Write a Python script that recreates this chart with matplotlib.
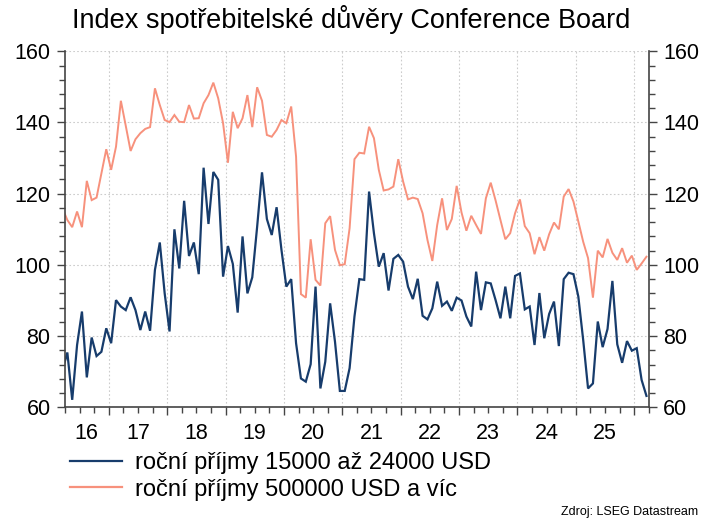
import numpy as np
import pandas as pd
import matplotlib
matplotlib.use("Agg")
import matplotlib.pyplot as plt
from matplotlib.ticker import MultipleLocator
from matplotlib.lines import Line2D

plt.rcParams['font.family'] = ['Liberation Sans', 'DejaVu Sans']

title = "Index spotřebitelské důvěry Conference Board"
label_low = "roční příjmy 15000 až 24000 USD"
label_high = "roční příjmy 500000 USD a víc"
source = "Zdroj: LSEG Datastream"

months = pd.date_range("2016-03-01", periods=121, freq="MS")

low_income = [70.4,
    75.4, 62.1, 77.5, 86.9, 68.4, 79.6, 74.4, 75.6, 82.2, 78.0,
    90.1, 88.3, 87.3, 90.9, 87.3, 81.7, 86.9, 81.5, 98.6, 106.3,
    92.0, 81.3, 110.0, 99.0, 118.0, 102.5, 106.3, 97.4, 127.3, 111.5,
    126.1, 123.9, 96.7, 105.3, 100.3, 86.6, 108.0, 92.0, 96.5, 110.7,
    126.0, 112.9, 108.4, 116.2, 104.2, 93.9, 96.0, 78.0, 68.1, 67.2,
    72.1, 93.9, 65.3, 72.8, 89.2, 78.4, 64.6, 64.6, 71.0, 85.5,
    96.0, 95.8, 120.6, 108.9, 99.5, 103.3, 92.8, 101.7, 102.8, 100.9,
    93.9, 90.4, 96.1, 85.7, 84.7, 87.8, 95.3, 88.5, 89.7, 87.1,
    90.8, 90.0, 85.5, 82.7, 98.1, 87.3, 95.1, 94.8, 90.1, 85.0,
    93.9, 85.0, 96.9, 97.6, 87.5, 88.3, 77.5, 92.1, 79.4, 86.2,
    89.7, 77.2, 96.0, 97.8, 97.4, 91.1, 78.9, 65.3, 66.7, 84.1,
    76.9, 82.0, 95.5, 77.7, 72.5, 78.6, 75.9, 76.6, 67.7, 63.2]

high_income = [115.9,
    112.6, 110.6, 115.0, 110.6, 123.6, 118.2, 118.9, 125.7, 132.5, 126.7,
    133.2, 146.1, 139.1, 132.0, 135.3, 137.0, 138.2, 138.7, 149.6, 144.9,
    140.7, 140.1, 142.1, 140.2, 140.1, 144.9, 141.1, 141.2, 145.4, 147.7,
    151.2, 146.8, 139.8, 128.7, 143.0, 138.4, 141.2, 147.7, 138.7, 149.9,
    146.1, 136.5, 136.0, 137.9, 140.7, 139.8, 144.5, 130.4, 91.8, 90.8,
    107.2, 95.8, 94.2, 111.7, 113.7, 104.2, 99.9, 100.2, 110.3, 129.7,
    131.5, 131.3, 138.8, 135.6, 126.7, 120.9, 121.2, 122.0, 129.7, 123.4,
    118.4, 118.9, 118.5, 114.5, 107.0, 101.1, 111.2, 118.7, 109.8, 112.9,
    122.2, 114.7, 109.6, 113.8, 111.2, 108.7, 118.7, 123.1, 118.1, 112.6,
    107.2, 108.9, 114.5, 118.4, 110.9, 108.9, 103.0, 107.8, 104.0, 108.6,
    111.9, 110.0, 119.2, 121.3, 117.8, 112.2, 106.5, 101.9, 90.8, 104.0,
    102.1, 107.3, 103.4, 101.4, 104.7, 100.6, 102.6, 98.6, 100.4, 102.3]

year_labels = ["16", "17", "18", "19", "20", "21", "22", "23", "24", "25"]

blue = "#173c6c"
salmon = "#f7917c"

x = months.year + (months.month - 0.5) / 12.0

fig = plt.figure(figsize=(7.02, 5.19), dpi=100)
W, H = 702, 519
left, right, top, bottom = 64.5, 649.3, 51.3, 407.3
ax = fig.add_axes([left / W, 1 - bottom / H, (right - left) / W, (bottom - top) / H])

ax.plot(x, high_income, color=salmon, lw=1.4, solid_joinstyle='miter')
ax.plot(x, low_income, color=blue, lw=1.6, solid_joinstyle='miter')

x0, x1 = 2016.243, 2026.257
ax.set_xlim(x0, x1)
ax.set_ylim(60, 160)

ax.xaxis.set_major_locator(MultipleLocator(1))
ax.xaxis.set_minor_locator(MultipleLocator(0.25))
ax.yaxis.set_major_locator(MultipleLocator(20))
ax.yaxis.set_minor_locator(MultipleLocator(4))
ax.set_xticklabels([])
ax.tick_params(axis='x', which='major', length=6, width=1, color='#444444', labelbottom=False)
ax.tick_params(axis='x', which='minor', length=4, width=1, color='#444444')
ax.tick_params(axis='y', which='both', left=True, right=True, labelleft=True, labelright=True,
               color='#444444', width=1)
ax.tick_params(axis='y', which='major', length=6, labelsize=15.5, pad=4)
ax.tick_params(axis='y', which='minor', length=4)

for s in ['left', 'right', 'bottom']:
    ax.spines[s].set_color('#444444')
    ax.spines[s].set_linewidth(1.2)
ax.spines['top'].set_visible(False)

ax.grid(which='major', color='#cccccc', linestyle=(0, (1.5, 2)), linewidth=0.8)
ax.set_axisbelow(True)

# year labels centred in each visible year interval
for i, lab in enumerate(year_labels):
    yr = 2016 + i
    a = max(yr, x0)
    b = min(yr + 1, x1)
    ax.text((a + b) / 2, -0.045, lab, transform=ax.get_xaxis_transform(),
            ha='center', va='top', fontsize=15.5)

fig.text(0.5, 1 - 19 / H, title, ha='center', va='center', fontsize=19.5)

handles = [Line2D([], [], color=blue, lw=1.6), Line2D([], [], color=salmon, lw=1.6)]
fig.legend(handles, [label_low, label_high], loc='upper left',
           bbox_to_anchor=(70 / W, 1 - 452 / H), frameon=False, fontsize=17,
           handlelength=2.2, handletextpad=0.55, labelspacing=0.2, borderaxespad=0, borderpad=0)

fig.text(698 / W, 1 - 512 / H, source, ha='right', va='center', fontsize=9)

fig.savefig("out.png", dpi=100)
